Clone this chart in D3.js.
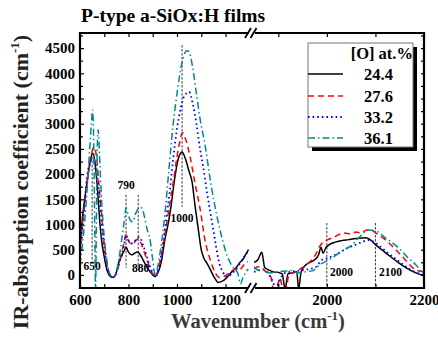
<!DOCTYPE html>
<html><head><meta charset="utf-8">
<script src="https://cdn.jsdelivr.net/npm/d3@7"></script>
<style>body{margin:0;background:#fff}svg{display:block}</style>
</head><body><svg id="c" width="438" height="341"></svg>
<script>
// ---- data ----
const seriesNames = ["24.4","27.6","33.2","36.1"];
const seriesColors = ["#000000","#ff0000","#0000ff","#008b8b"];
const seriesDash = ["none","6,4","1.6,3","7,3,1.5,3"];
const leftTicks = [600,700,800,900,1000,1100,1200];
const leftTickLabels = ["600","","800","","1000","","1200"];
const rightTicks = [1900,2000,2100,2200];
const rightTickLabels = ["","2000","","2200"];
const yTicks = [0,500,1000,1500,2000,2500,3000,3500,4000,4500];
const yMinorTicks = [250,750,1250,1750,2250,2750,3250,3750,4250,4750];

const black24L = [[600,500],[608,1030],[618,1450],[629,1825],[642,2250],[652,2420],[662,2230],[672,1700],[680,1150],[690,650],[700,357],[712,80],[725,-30],[735,-50],[748,20],[760,250],[772,380],[782,480],[790,555],[797,480],[805,420],[815,400],[828,440],[838,456],[848,400],[860,300],[875,160],[888,70],[900,0],[910,-30],[922,50],[935,250],[950,700],[965,1050],[975,1350],[990,1900],[1005,2300],[1021,2440],[1035,2300],[1050,2050],[1062,1850],[1075,1350],[1088,900],[1100,500],[1110,340],[1125,220],[1140,80],[1155,-60],[1170,-150],[1185,-130],[1200,-80],[1215,0],[1230,80],[1245,150],[1260,250],[1275,330],[1285,420],[1295,500]];
const red27L = [[600,450],[610,1000],[620,1450],[632,1950],[645,2350],[658,2540],[668,2350],[678,1800],[688,1250],[698,700],[710,250],[722,20],[735,-50],[748,0],[760,200],[772,450],[782,650],[790,800],[798,700],[808,620],[818,610],[830,680],[840,720],[852,620],[865,450],[880,250],[895,60],[910,-30],[925,150],[940,500],[955,950],[970,1400],[985,1850],[1000,2350],[1012,2650],[1022,2820],[1035,2700],[1054,2340],[1075,1800],[1096,1290],[1115,700],[1137,300],[1158,40],[1175,-50],[1190,-40],[1205,0],[1220,60],[1240,110],[1255,80],[1270,160],[1283,240],[1293,260]];
const blue33L = [[600,450],[610,950],[620,1450],[629,1944],[640,2200],[650,2300],[660,2250],[670,2000],[680,1550],[690,1000],[700,550],[712,150],[722,0],[735,-40],[748,30],[760,200],[772,400],[782,600],[790,790],[798,700],[808,620],[817,630],[830,700],[846,750],[858,620],[872,420],[886,200],[900,40],[910,-30],[925,150],[940,550],[955,1100],[970,1650],[983,2250],[1000,2900],[1015,3300],[1030,3550],[1050,3630],[1065,3400],[1080,3000],[1095,2500],[1108,2140],[1125,1600],[1145,1030],[1160,600],[1171,300],[1190,50],[1208,-40],[1225,20],[1240,100],[1255,200],[1270,300],[1285,420],[1293,450]];
const teal36L = [[600,200],[610,600],[620,1100],[630,1750],[640,2500],[647,3000],[652,3270],[657,2500],[661,800],[664,-300],[667,800],[671,2500],[675,2880],[682,2200],[690,1400],[700,750],[712,250],[725,0],[735,-40],[748,30],[760,300],[772,700],[782,1050],[790,1330],[798,1200],[808,1080],[817,1050],[828,1200],[842,1320],[854,1330],[866,1150],[877,900],[887,750],[900,300],[910,-20],[922,200],[935,600],[950,1200],[965,2000],[983,2940],[1000,3600],[1020,4200],[1040,4450],[1050,4430],[1065,4100],[1080,3600],[1095,3100],[1117,2540],[1140,1800],[1165,1157],[1190,650],[1205,400],[1220,240],[1235,120],[1250,40],[1262,-180],[1272,-50],[1283,40],[1293,120]];

const black24R = [[1850,250],[1858,300],[1866,450],[1872,150],[1880,100],[1890,60],[1900,50],[1908,20],[1914,-280],[1920,20],[1930,40],[1938,60],[1942,-280],[1947,60],[1955,180],[1965,250],[1975,300],[1983,400],[1988,550],[1992,430],[1998,540],[2005,600],[2017,650],[2030,680],[2045,700],[2060,720],[2080,735],[2089,700],[2100,600],[2113,500],[2130,370],[2148,240],[2165,130],[2183,40],[2200,-20]];
const red27R = [[1850,120],[1858,160],[1866,130],[1875,60],[1885,-50],[1890,-280],[1897,-280],[1903,-60],[1910,-280],[1916,-280],[1922,20],[1935,60],[1950,150],[1965,260],[1978,420],[1985,560],[1990,630],[2000,690],[2015,750],[2035,830],[2050,810],[2060,850],[2070,830],[2082,890],[2092,880],[2101,830],[2120,700],[2148,440],[2165,260],[2183,100],[2200,60]];
const blue33R = [[1850,60],[1860,90],[1870,110],[1880,20],[1888,-120],[1895,-270],[1902,-120],[1912,30],[1925,60],[1940,80],[1955,100],[1970,130],[1978,160],[1990,300],[2000,330],[2018,400],[2040,520],[2060,600],[2072,650],[2086,690],[2101,630],[2120,480],[2148,270],[2165,150],[2183,50],[2200,0]];
const teal36R = [[1850,160],[1860,90],[1870,110],[1882,40],[1895,60],[1910,70],[1925,90],[1940,40],[1955,60],[1970,80],[1985,200],[2000,280],[2010,330],[2030,470],[2050,580],[2065,730],[2086,890],[2101,870],[2120,740],[2148,530],[2165,360],[2183,200],[2200,0]];

const leftData = [black24L, red27L, blue33L, teal36L];
const rightData = [black24R, red27R, blue33R, teal36R];

// annotations: label, wavenumber of line, line top / bottom values, label position values
const annLabels = ["650","790","880","1000","2000","2100"];
const annX = [650,790,840,1021,2000,2100];
const annTop = [2420,1590,1590,4560,1030,1030];
const annBottom = [258,140,100,1350,-260,-260];
const annLabelX = [650,790,850,1021,2030,2131];
const annLabelY = [100,1700,50,1050,-20,-20];

// ---- drawing ----
const FONT = '"Liberation Serif", "Times New Roman", Times, serif';
const svg = d3.select("#c");
function txt(sel){ return sel.style("font-family",FONT).style("font-weight","bold"); }
svg.append("rect").attr("width",438).attr("height",341).attr("fill","#fff");
const L=80, R=424, T=33, B=288;
const xL = d3.scaleLinear().domain([600,1300]).range([80,249.75]);
const xR = d3.scaleLinear().domain([1850,2200]).range([254,424]);
const y = d3.scaleLinear().domain([-260,4800]).range([B,T]);
const xAny = v => v < 1500 ? xL(v) : xR(v);

const defs = svg.append("defs");
defs.append("clipPath").attr("id","cl").append("rect").attr("x",L).attr("y",T).attr("width",xL(1300)-L).attr("height",B-T);
defs.append("clipPath").attr("id","cr").append("rect").attr("x",xR(1850)).attr("y",T).attr("width",R-xR(1850)).attr("height",B-T);

// annotation lines (behind curves)
const ann = svg.append("g");
annLabels.forEach((lab,i)=>{
  const x = xAny(annX[i]);
  ann.append("line").attr("x1",x).attr("x2",x).attr("y1",y(annTop[i])).attr("y2",y(annBottom[i]))
    .attr("stroke","#222").attr("stroke-width",0.9).attr("stroke-dasharray","2.5,1.5");
});

function drawSet(data, xs, clip){
  const g = svg.append("g").attr("clip-path",`url(#${clip})`);
  const line = d3.line().x(d=>xs(d[0])).y(d=>y(d[1])).curve(d3.curveMonotoneX);
  data.forEach((d,i)=>{
    g.append("path").attr("d",line(d)).attr("fill","none")
      .attr("stroke",seriesColors[i]).attr("stroke-width", i===2?1.8:1.5)
      .attr("stroke-dasharray",seriesDash[i]);
  });
}
drawSet(leftData, xL, "cl");
drawSet(rightData, xR, "cr");

annLabels.forEach((lab,i)=>{
  txt(svg.append("text")).attr("x",xAny(annLabelX[i])).attr("y",y(annLabelY[i])).attr("text-anchor","middle")
    .style("font-size","11.5px").attr("fill","#000").text(lab);
});

// axes
function styleAxis(g){ g.attr("font-family",null).attr("font-size",null);
  g.select(".domain").remove(); g.selectAll("line").attr("stroke","#000").attr("stroke-width",1.2);
  txt(g.selectAll("text")).style("font-size","15px").attr("fill","#000"); }
const gbL = svg.append("g").attr("transform",`translate(0,${B})`)
  .call(d3.axisBottom(xL).tickValues(leftTicks).tickFormat((d,i)=>leftTickLabels[i]).tickSizeInner(-4).tickSizeOuter(0).tickPadding(6));
styleAxis(gbL);
const gbR = svg.append("g").attr("transform",`translate(0,${B})`)
  .call(d3.axisBottom(xR).tickValues(rightTicks).tickFormat((d,i)=>rightTickLabels[i]).tickSizeInner(-4).tickSizeOuter(0).tickPadding(6));
styleAxis(gbR);
const gtL = svg.append("g").attr("transform",`translate(0,${T})`)
  .call(d3.axisTop(xL).tickValues(leftTicks).tickFormat("").tickSizeInner(-4).tickSizeOuter(0));
styleAxis(gtL);
const gtR = svg.append("g").attr("transform",`translate(0,${T})`)
  .call(d3.axisTop(xR).tickValues(rightTicks).tickFormat("").tickSizeInner(-4).tickSizeOuter(0));
styleAxis(gtR);
const gl = svg.append("g").attr("transform",`translate(${L},0)`)
  .call(d3.axisLeft(y).tickValues(yTicks).tickFormat(d3.format("d")).tickSizeInner(-4).tickSizeOuter(0).tickPadding(5));
styleAxis(gl);
const glm = svg.append("g").attr("transform",`translate(${L},0)`)
  .call(d3.axisLeft(y).tickValues(yMinorTicks).tickFormat("").tickSizeInner(-3).tickSizeOuter(0));
styleAxis(glm);
const gr = svg.append("g").attr("transform",`translate(${R},0)`)
  .call(d3.axisRight(y).tickValues(yTicks.concat(yMinorTicks)).tickFormat("").tickSizeInner(-3).tickSizeOuter(0));
styleAxis(gr);

// frame
const fr = svg.append("g").attr("stroke","#000").attr("stroke-width",2.2).attr("fill","none");
fr.append("line").attr("x1",L).attr("x2",L).attr("y1",T-1).attr("y2",B+1);
fr.append("line").attr("x1",R).attr("x2",R).attr("y1",T-1).attr("y2",B+1);
[T,B].forEach(yy=>{
  fr.append("line").attr("x1",L-1).attr("x2",248).attr("y1",yy).attr("y2",yy);
  fr.append("line").attr("x1",255).attr("x2",R+1).attr("y1",yy).attr("y2",yy);
  [248.5,254].forEach(xx=>{
    fr.append("line").attr("x1",xx-3.5).attr("x2",xx+2.5).attr("y1",yy+5).attr("y2",yy-5).attr("stroke-width",1.8);
  });
});

// titles
txt(svg.append("text")).attr("x",81).attr("y",22).style("font-size","19.5px").attr("fill","#000").text("P-type a-SiOx:H films");
const xt = txt(svg.append("text")).attr("x",258).attr("y",328).attr("text-anchor","middle").style("font-size","20.5px").attr("fill","#3a3a3a");
xt.append("tspan").text("Wavenumber (cm");
xt.append("tspan").attr("dy",-8).style("font-size","13px").text("-1");
xt.append("tspan").attr("dy",8).text(")");
const yt = txt(svg.append("text")).attr("transform","translate(28,182) rotate(-90)").attr("text-anchor","middle").style("font-size","22px").attr("fill","#222");
yt.append("tspan").text("IR-absorption coefficient (cm");
yt.append("tspan").attr("dy",-9).style("font-size","13px").text("-1");
yt.append("tspan").attr("dy",9).text(")");

// legend
const lg = svg.append("g");
lg.append("rect").attr("x",312).attr("y",47).attr("width",105).attr("height",104).attr("fill","#000");
lg.append("rect").attr("x",308).attr("y",43).attr("width",105).attr("height",104).attr("fill","#fff").attr("stroke","#777").attr("stroke-width",1);
txt(lg.append("text")).attr("x",413).attr("y",59).attr("text-anchor","end").style("font-size","16.5px").attr("fill","#000").text("[O] at.%");
const legY = [74,96,117,138];
seriesNames.forEach((n,i)=>{
  lg.append("line").attr("x1",308).attr("x2",343).attr("y1",legY[i]).attr("y2",legY[i])
    .attr("stroke",seriesColors[i]).attr("stroke-width",i===2?1.8:1.5).attr("stroke-dasharray",seriesDash[i]);
  txt(lg.append("text")).attr("x",364).attr("y",legY[i]+5.5).style("font-size","16.5px").attr("fill","#000").text(n);
});
</script></body></html>
